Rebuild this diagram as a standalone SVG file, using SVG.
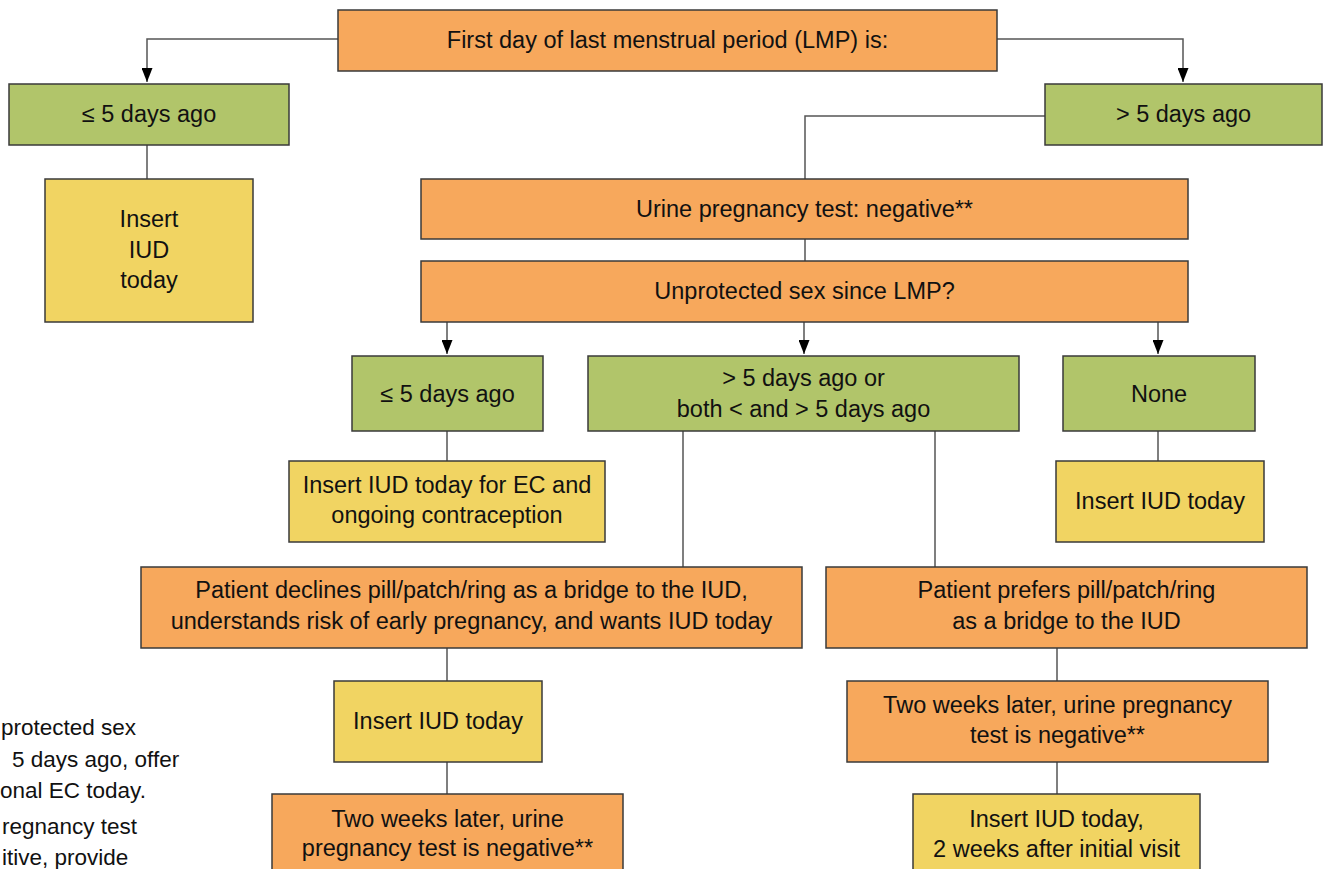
<svg xmlns="http://www.w3.org/2000/svg" width="1330" height="869" viewBox="0 0 1330 869">
<style>
.box{stroke:#3a3a3a;stroke-width:1.5}
.or{fill:#F7A85C}
.gr{fill:#B1C56A}
.ye{fill:#F1D462}
.t{font-family:"Liberation Sans",Arial,sans-serif;font-size:23.5px;fill:#111;text-anchor:middle}
.fn{font-family:"Liberation Sans",Arial,sans-serif;font-size:22.5px;fill:#111}
.c{fill:none;stroke:#555;stroke-width:1.5}
</style>
<defs>
<marker id="ah" viewBox="0 0 14 11" refX="14" refY="5.5" markerWidth="14" markerHeight="11" markerUnits="userSpaceOnUse" orient="auto">
<path d="M0,0 L14,5.5 L0,11 z" fill="#000"/>
</marker>
</defs>
<rect width="1330" height="869" fill="#fff"/>
<g id="connectors">
<path class="c" d="M338,39 H147 V82" marker-end="url(#ah)"/>
<path class="c" d="M997,39 H1183 V82" marker-end="url(#ah)"/>
<path class="c" d="M147,145 V179"/>
<path class="c" d="M1045,116 H805 V179"/>
<path class="c" d="M805,239 V261"/>
<path class="c" d="M447,322 V354" marker-end="url(#ah)"/>
<path class="c" d="M804,322 V354" marker-end="url(#ah)"/>
<path class="c" d="M1158,322 V354" marker-end="url(#ah)"/>
<path class="c" d="M447,431 V461"/>
<path class="c" d="M1158,431 V461"/>
<path class="c" d="M683,431 V567"/>
<path class="c" d="M935,431 V567"/>
<path class="c" d="M447,648 V681"/>
<path class="c" d="M447,762 V794"/>
<path class="c" d="M1057,648 V681"/>
<path class="c" d="M1057,762 V794"/>
</g>
<g id="lmp">
<rect class="box or" x="338" y="10" width="659" height="61"/>
<text class="t" x="667.5" y="48">First day of last menstrual period (LMP) is:</text>
</g>
<g id="lmp-le5">
<rect class="box gr" x="9" y="84" width="280" height="61"/>
<text class="t" x="149" y="122">≤ 5 days ago</text>
</g>
<g id="lmp-gt5">
<rect class="box gr" x="1045" y="84" width="277" height="61"/>
<text class="t" x="1183.5" y="122">&gt; 5 days ago</text>
</g>
<g id="insert-1">
<rect class="box ye" x="45" y="179" width="208" height="143"/>
<text class="t" x="149" y="227">Insert</text>
<text class="t" x="149" y="258">IUD</text>
<text class="t" x="149" y="288">today</text>
</g>
<g id="urine">
<rect class="box or" x="421" y="179" width="767" height="60"/>
<text class="t" x="804.5" y="217">Urine pregnancy test: negative**</text>
</g>
<g id="unprotected">
<rect class="box or" x="421" y="261" width="767" height="61"/>
<text class="t" x="804.5" y="299">Unprotected sex since LMP?</text>
</g>
<g id="sex-le5">
<rect class="box gr" x="352" y="356" width="191" height="75"/>
<text class="t" x="447.5" y="402">≤ 5 days ago</text>
</g>
<g id="sex-gt5">
<rect class="box gr" x="588" y="356" width="431" height="75"/>
<text class="t" x="803.5" y="386">&gt; 5 days ago or</text>
<text class="t" x="803.5" y="417">both &lt; and &gt; 5 days ago</text>
</g>
<g id="sex-none">
<rect class="box gr" x="1063" y="356" width="192" height="75"/>
<text class="t" x="1159" y="402">None</text>
</g>
<g id="insert-ec">
<rect class="box ye" x="289" y="461" width="316" height="81"/>
<text class="t" x="447" y="493">Insert IUD today for EC and</text>
<text class="t" x="447" y="523">ongoing contraception</text>
</g>
<g id="insert-none">
<rect class="box ye" x="1056" y="461" width="208" height="81"/>
<text class="t" x="1160" y="509">Insert IUD today</text>
</g>
<g id="declines">
<rect class="box or" x="141" y="567" width="661" height="81"/>
<text class="t" x="471.5" y="598">Patient declines pill/patch/ring as a bridge to the IUD,</text>
<text class="t" x="471.5" y="629">understands risk of early pregnancy, and wants IUD today</text>
</g>
<g id="prefers">
<rect class="box or" x="826" y="567" width="481" height="81"/>
<text class="t" x="1066.5" y="598">Patient prefers pill/patch/ring</text>
<text class="t" x="1066.5" y="629">as a bridge to the IUD</text>
</g>
<g id="insert-mid">
<rect class="box ye" x="334" y="681" width="208" height="81"/>
<text class="t" x="438" y="729">Insert IUD today</text>
</g>
<g id="two-weeks-right">
<rect class="box or" x="847" y="681" width="421" height="81"/>
<text class="t" x="1057.5" y="713">Two weeks later, urine pregnancy</text>
<text class="t" x="1057.5" y="743">test is negative**</text>
</g>
<g id="two-weeks-left">
<rect class="box or" x="272" y="794" width="351" height="90"/>
<text class="t" x="447.5" y="827">Two weeks later, urine</text>
<text class="t" x="447.5" y="856">pregnancy test is negative**</text>
</g>
<g id="insert-2weeks">
<rect class="box ye" x="913" y="794" width="287" height="90"/>
<text class="t" x="1056.5" y="827">Insert IUD today,</text>
<text class="t" x="1056.5" y="857">2 weeks after initial visit</text>
</g>
<g id="footnote">
<text class="fn" x="1" y="735">protected sex</text>
<text class="fn" x="12" y="767">5 days ago, offer</text>
<text class="fn" x="0" y="798">onal EC today.</text>
<text class="fn" x="2" y="834">regnancy test</text>
<text class="fn" x="2" y="865">itive, provide</text>
</g>
</svg>
